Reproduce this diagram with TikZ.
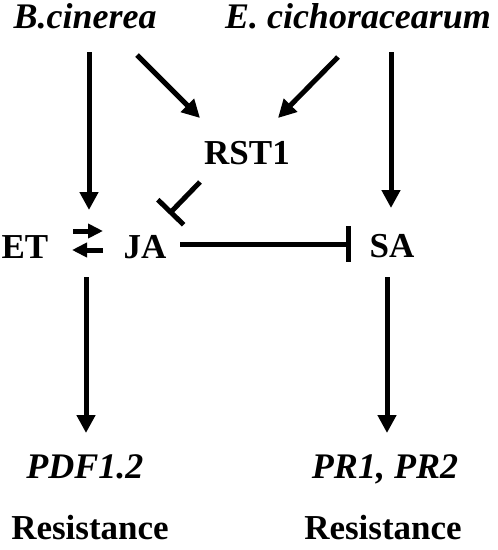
\documentclass[tikz,border=0pt]{standalone}
\usepackage{fontspec}
\setmainfont{Liberation Serif}
\usetikzlibrary{arrows.meta}

\begin{document}
\begin{tikzpicture}[
    x=1pt, y=-1pt,
    >={Triangle[length=18pt, width=18pt]},
    every node/.style={font=\fontsize{35}{40}\selectfont\bfseries, inner sep=0pt, text height=24pt, text depth=0pt},
    species/.style={font=\fontsize{36}{40}\selectfont\bfseries\itshape},
    arrow/.style={->, line width=5pt},
    swap/.style={-{Triangle[length=15pt, width=14pt]}, line width=5pt},
    inhibit/.style={-{Bar[width=36pt, line width=5pt]}, line width=5pt}
]
    \useasboundingbox (0,0) rectangle (498,550);

    % pathogens and signals
    \node[species] (bcin) at (85,16) {B.cinerea};
    \node[species] (ecich) at (358,16) {E. cichoracearum};
    \node (rst) at (247,152) {RST1};
    \node (et) at (25,246) {ET};
    \node (ja) at (145,246) {JA};
    \node (sa) at (392,245) {SA};
    \node[species] (pdf) at (85,466) {PDF1.2};
    \node[species] (pr) at (385,466) {PR1, PR2};
    \node (resl) at (90,527) {Resistance};
    \node (resr) at (383,527) {Resistance};

    % connector ends
    \coordinate (bcin-s) at (89,52);
    \coordinate (bcin-se) at (137,55);
    \coordinate (ecich-sw) at (338,57);
    \coordinate (ecich-s) at (391,52);
    \coordinate (rst-nw) at (200,118);
    \coordinate (rst-ne) at (278,118);
    \coordinate (rst-sw) at (200,182);
    \coordinate (ja-ne) at (169,214);
    \coordinate (etja-n) at (89,210);
    \coordinate (etja-s) at (86,277);
    \coordinate (ja-e) at (180,244);
    \coordinate (sa-w) at (351,244);
    \coordinate (sa-n) at (391,208);
    \coordinate (sa-s) at (387,277);
    \coordinate (pdf-n) at (86,433);
    \coordinate (pr-n) at (387,433);

    \draw[arrow] (bcin-s) -- (etja-n);
    \draw[arrow] (bcin-se) -- (rst-nw);
    \draw[arrow] (ecich-sw) -- (rst-ne);
    \draw[arrow] (ecich-s) -- (sa-n);
    \draw[inhibit] (rst-sw) -- (ja-ne);
    \draw[inhibit] (ja-e) -- (sa-w);
    \draw[swap] (73,231) -- (103,231);
    \draw[swap] (103,250) -- (72,250);
    \draw[arrow] (etja-s) -- (pdf-n);
    \draw[arrow] (sa-s) -- (pr-n);
\end{tikzpicture}
\end{document}
